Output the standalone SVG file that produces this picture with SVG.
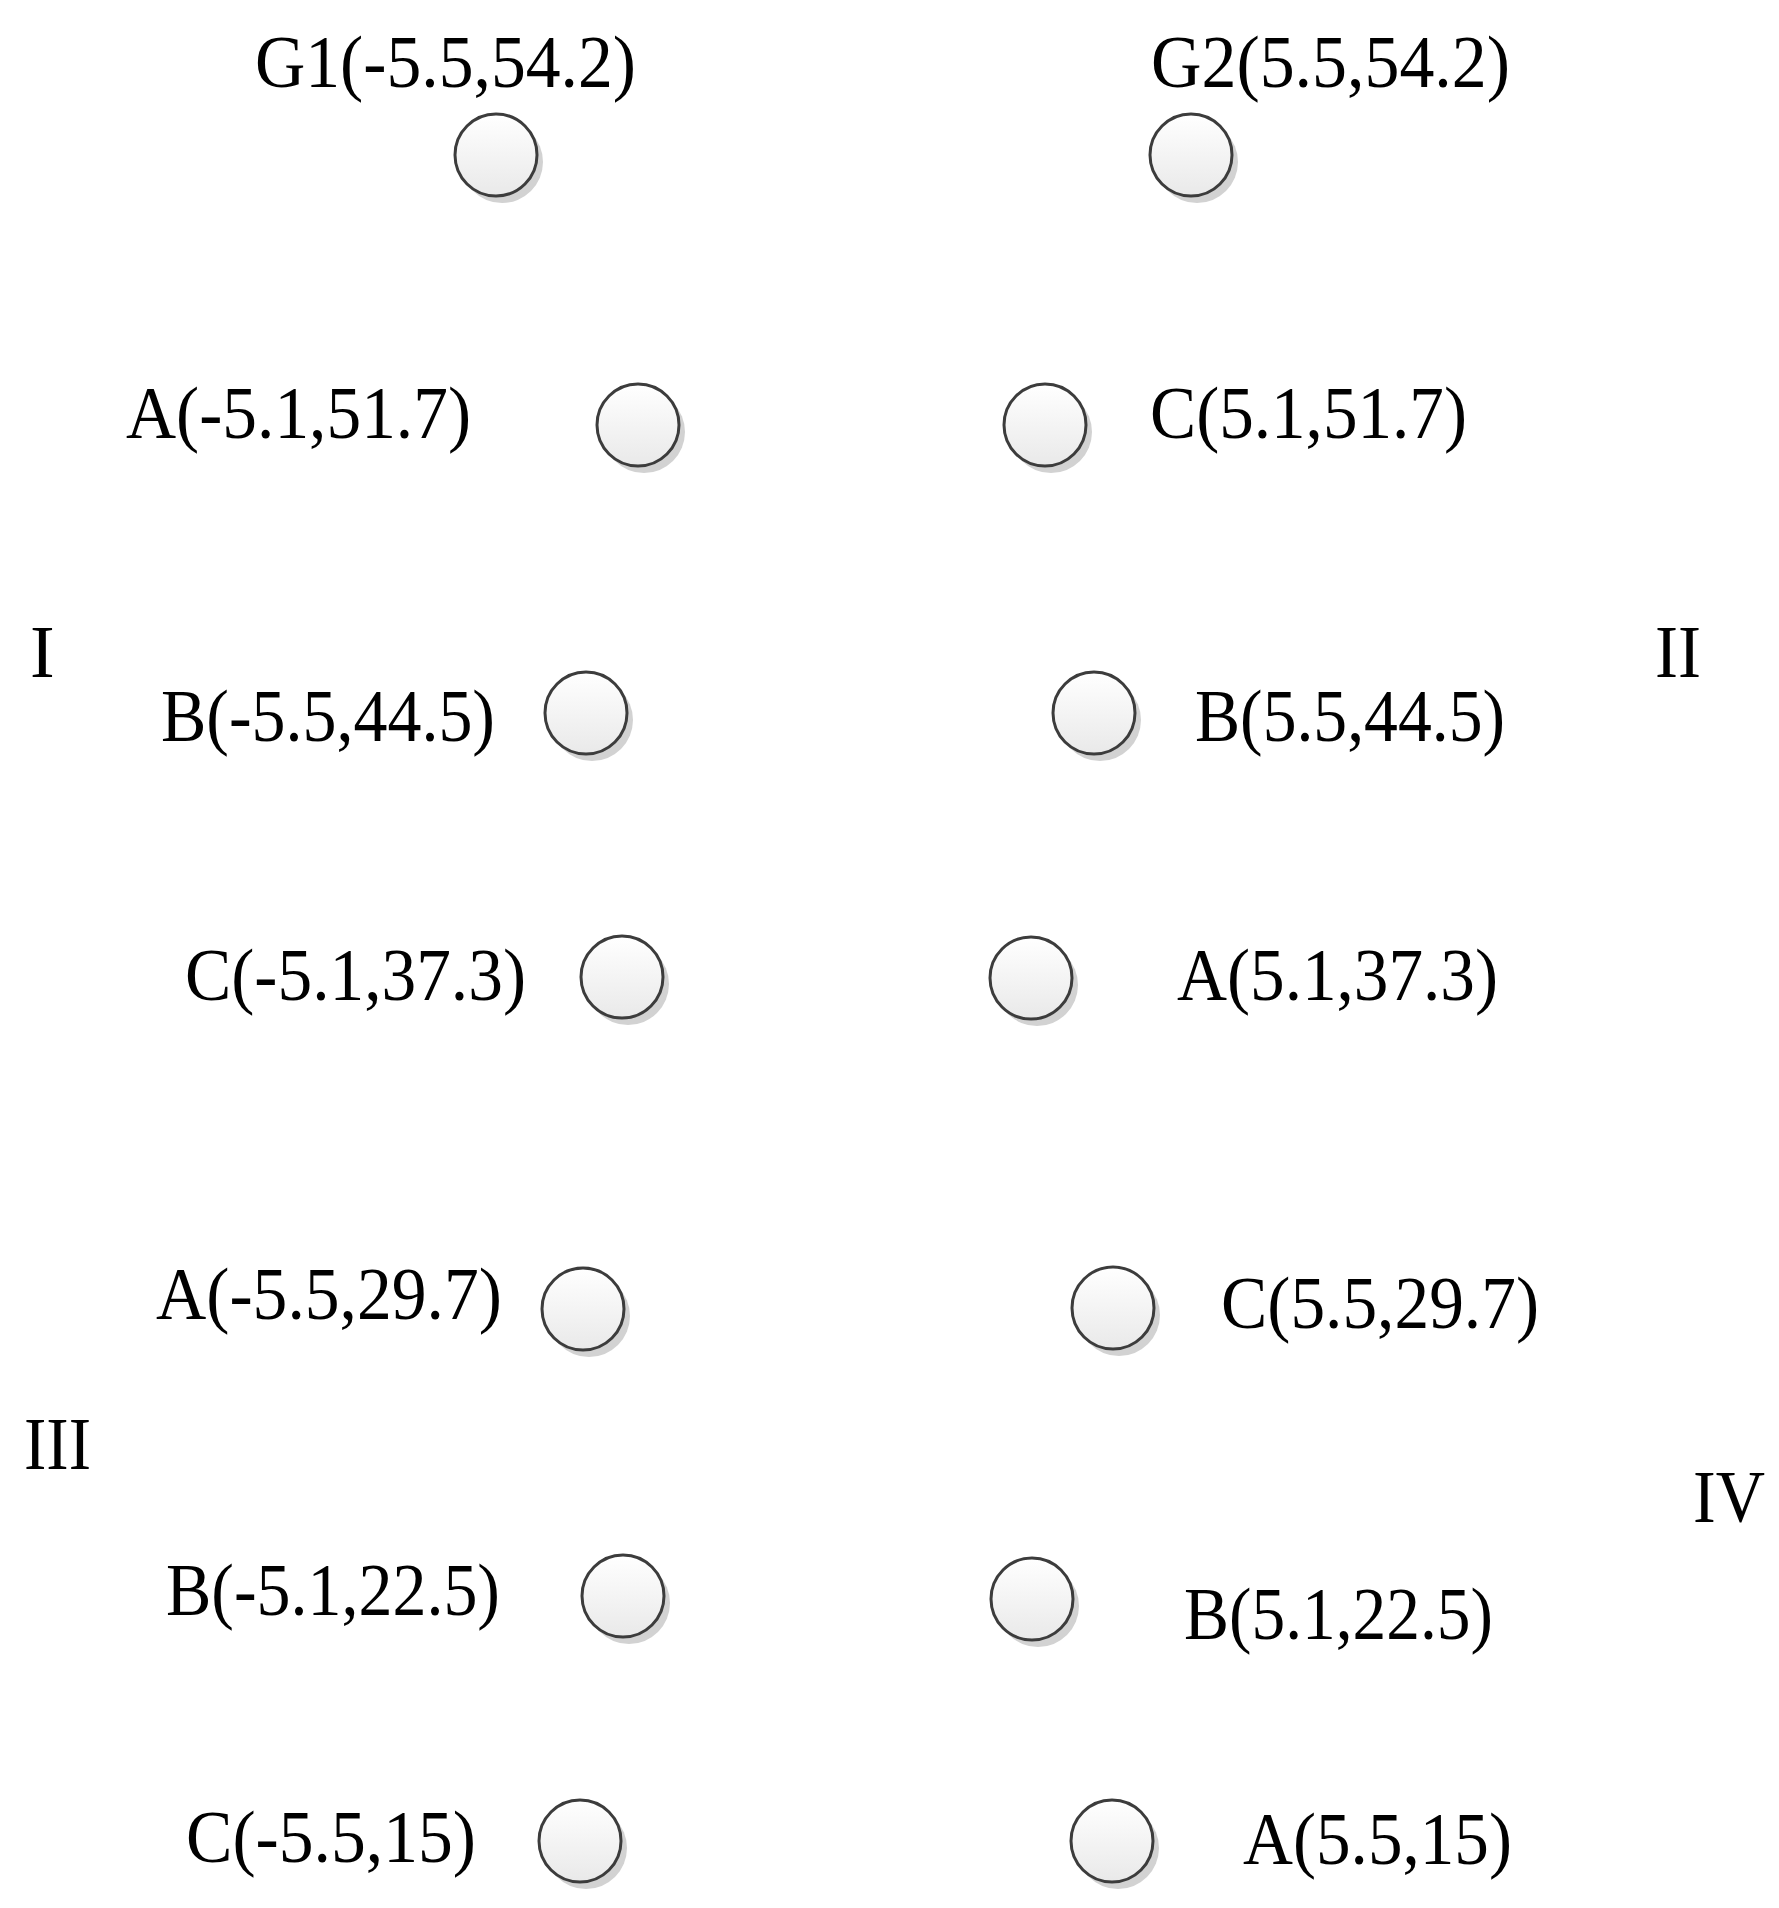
<svg xmlns="http://www.w3.org/2000/svg" width="1779" height="1908" viewBox="0 0 1779 1908">
<defs>
<linearGradient id="fillg" x1="0" y1="0" x2="0" y2="1">
<stop offset="0" stop-color="#ffffff"/>
<stop offset="1" stop-color="#e9e9e9"/>
</linearGradient>
<g id="node">
<circle cx="6" cy="7" r="41" fill="#d2d2d2"/>
<circle cx="0" cy="0" r="41" fill="url(#fillg)" stroke="#3c3c3c" stroke-width="3"/>
</g>
</defs>
<style>
text{font-family:"Liberation Serif","Times New Roman",serif;font-size:74px;fill:#000;}
</style>
<rect width="1779" height="1908" fill="#fff"/>
<g id="connectors"></g>
<g id="G1"><use href="#node" x="496" y="155"/><text x="255" y="87" textLength="381" lengthAdjust="spacingAndGlyphs">G1(-5.5,54.2)</text></g>
<g id="G2"><use href="#node" x="1191" y="155"/><text x="1151" y="87" textLength="359" lengthAdjust="spacingAndGlyphs">G2(5.5,54.2)</text></g>
<g id="A1"><use href="#node" x="638" y="425"/><text x="126" y="438" textLength="345" lengthAdjust="spacingAndGlyphs">A(-5.1,51.7)</text></g>
<g id="C2"><use href="#node" x="1045" y="425"/><text x="1150" y="438" textLength="317" lengthAdjust="spacingAndGlyphs">C(5.1,51.7)</text></g>
<g id="B1"><use href="#node" x="586" y="713"/><text x="161" y="741" textLength="334" lengthAdjust="spacingAndGlyphs">B(-5.5,44.5)</text></g>
<g id="B2"><use href="#node" x="1094" y="713"/><text x="1195" y="741" textLength="310" lengthAdjust="spacingAndGlyphs">B(5.5,44.5)</text></g>
<g id="C1"><use href="#node" x="622" y="977"/><text x="185" y="1000" textLength="341" lengthAdjust="spacingAndGlyphs">C(-5.1,37.3)</text></g>
<g id="A2"><use href="#node" x="1031" y="978"/><text x="1177" y="1000" textLength="321" lengthAdjust="spacingAndGlyphs">A(5.1,37.3)</text></g>
<g id="A3"><use href="#node" x="583" y="1309"/><text x="156" y="1319" textLength="346" lengthAdjust="spacingAndGlyphs">A(-5.5,29.7)</text></g>
<g id="C4"><use href="#node" x="1113" y="1308"/><text x="1221" y="1328" textLength="318" lengthAdjust="spacingAndGlyphs">C(5.5,29.7)</text></g>
<g id="B3"><use href="#node" x="623" y="1596"/><text x="166" y="1615" textLength="334" lengthAdjust="spacingAndGlyphs">B(-5.1,22.5)</text></g>
<g id="B4"><use href="#node" x="1032" y="1599"/><text x="1184" y="1639" textLength="309" lengthAdjust="spacingAndGlyphs">B(5.1,22.5)</text></g>
<g id="C3"><use href="#node" x="580" y="1841"/><text x="186" y="1862" textLength="290" lengthAdjust="spacingAndGlyphs">C(-5.5,15)</text></g>
<g id="A4"><use href="#node" x="1112" y="1841"/><text x="1243" y="1864" textLength="269" lengthAdjust="spacingAndGlyphs">A(5.5,15)</text></g>
<g id="regions">
<text x="30" y="677">I</text>
<text x="1655" y="677" textLength="46" lengthAdjust="spacingAndGlyphs">II</text>
<text x="24" y="1469" textLength="67" lengthAdjust="spacingAndGlyphs">III</text>
<text x="1693" y="1522" textLength="72" lengthAdjust="spacingAndGlyphs">IV</text>
</g>
</svg>
